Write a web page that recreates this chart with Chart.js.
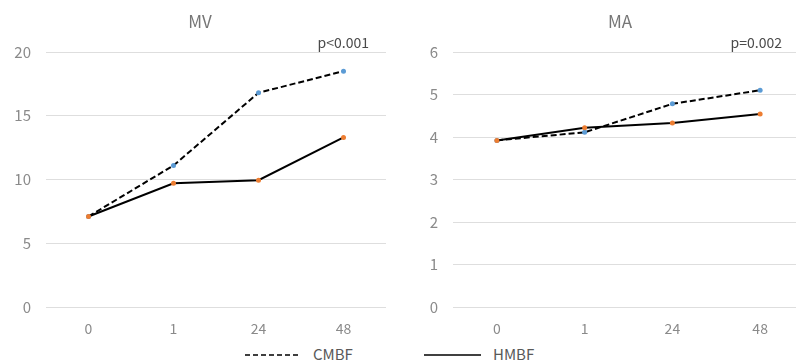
<!DOCTYPE html>
<html>
<head>
<meta charset="utf-8">
<script src="https://cdn.jsdelivr.net/npm/chart.js@4.4.1/dist/chart.umd.min.js"></script>
<style>
  html, body { margin: 0; padding: 0; background: #fff; }
  body { width: 796px; height: 362px; overflow: hidden; position: relative; font-family: "Noto Sans CJK JP", "Noto Sans", sans-serif; }
  .box { position: absolute; top: 0; }
  #legend { position: absolute; top: 345px; left: 0; width: 796px; height: 17px; color: #595959; font-size: 15px; }
  .item { position: absolute; top: 0; line-height: 17px; }
  .item svg { position: absolute; top: 0; }
</style>
</head>
<body>
<div class="box" style="left:0;width:396px;height:340px"><canvas id="mv"></canvas></div>
<div class="box" style="left:396px;width:412px;height:340px"><canvas id="ma"></canvas></div>
<div id="legend">
  <div class="item" style="left:245px">
    <svg width="60" height="17"><line x1="0" y1="10" x2="54" y2="10" stroke="#000" stroke-width="1.5" stroke-dasharray="5,3"/></svg>
    <span style="position:absolute;left:68px">CMBF</span>
  </div>
  <div class="item" style="left:424px">
    <svg width="60" height="17"><line x1="0" y1="10" x2="57" y2="10" stroke="#000" stroke-width="1.5"/></svg>
    <span style="position:absolute;left:69px">HMBF</span>
  </div>
</div>
<script>
const hours = ["0", "1", "24", "48"];
const seriesNames = ["CMBF", "HMBF"];
const mvCMBF = [7.1, 11.1, 16.8, 18.5];
const mvHMBF = [7.1, 9.7, 9.95, 13.3];
const maCMBF = [3.92, 4.11, 4.78, 5.1];
const maHMBF = [3.92, 4.22, 4.33, 4.54];

const FONT = "'Noto Sans CJK JP', 'Noto Sans', sans-serif";

const textPlugin = {
  id: "texts",
  afterDraw(chart, args, opts) {
    const ctx = chart.ctx;
    ctx.save();
    ctx.font = "17px " + FONT;
    ctx.fillStyle = "#767676";
    ctx.textAlign = "center";
    ctx.textBaseline = "middle";
    ctx.fillText(opts.title, opts.titleX, 22);
    ctx.font = "14px " + FONT;
    ctx.fillStyle = "#4a4a4a";
    ctx.textAlign = "right";
    ctx.fillText(opts.pText, opts.pRight, 43);
    ctx.restore();
  }
};

function makeChart(id, title, titleX, pText, pRight, cmbf, hmbf, max, step, axisW, padRight) {
  return new Chart(document.getElementById(id), {
    type: "line",
    data: {
      labels: hours,
      datasets: [
        {
          label: seriesNames[0],
          data: cmbf,
          borderColor: "#000",
          borderWidth: 2,
          borderDash: [6, 3],
          pointRadius: 2.5,
          pointBorderWidth: 0,
          pointBackgroundColor: "#5B9BD5",
          tension: 0,
          order: 1
        },
        {
          label: seriesNames[1],
          data: hmbf,
          borderColor: "#000",
          borderWidth: 2,
          pointRadius: 2.5,
          pointBorderWidth: 0,
          pointBackgroundColor: "#ED7D31",
          tension: 0,
          order: 0
        }
      ]
    },
    options: {
      responsive: true,
      maintainAspectRatio: false,
      animation: false,
      layout: { padding: { top: 52, left: 0, right: padRight, bottom: 0 } },
      plugins: {
        legend: { display: false },
        tooltip: { enabled: false },
        texts: { title: title, titleX: titleX, pText: pText, pRight: pRight }
      },
      scales: {
        x: {
          offset: true,
          grid: { display: false },
          border: { display: false },
          ticks: { color: "#8a8a8a", font: { family: FONT, size: 14 }, padding: 5 },
          afterFit: (s) => { s.height = 33; }
        },
        y: {
          min: 0,
          max: max,
          grid: { color: "#dedede", drawTicks: false },
          border: { display: false },
          ticks: { stepSize: step, color: "#8a8a8a", font: { family: FONT, size: 15 }, padding: 15 },
          afterFit: (s) => { s.width = axisW; }
        }
      }
    },
    plugins: [textPlugin]
  });
}

makeChart("mv", "MV", 200, "p<0.001", 369, mvCMBF, mvHMBF, 20, 5, 46, 10);
makeChart("ma", "MA", 224, "p=0.002", 386, maCMBF, maHMBF, 6, 1, 57, 0);
</script>
</body>
</html>
